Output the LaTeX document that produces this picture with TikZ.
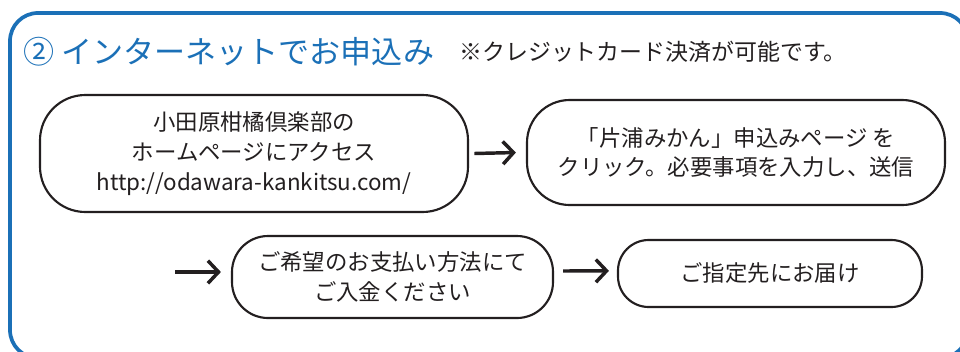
\documentclass[tikz,border=0pt]{standalone}
\usepackage{fontspec}
\setmainfont{Noto Sans CJK JP}
\usetikzlibrary{arrows.meta}
\definecolor{frameblue}{HTML}{1B70B7}
\definecolor{ink}{HTML}{231F20}
\tikzset{
  flowbox/.style={draw=ink, line width=1.6pt, text=ink, align=center,
    font=\fontsize{16.8}{22.3}\selectfont, inner sep=0pt},
  flowarrow/.style={draw=ink, line width=2.6pt,
    -{Straight Barb[length=8pt,width=17pt,line width=2.6pt]}},
}
\begin{document}
\begin{tikzpicture}[x=0.75pt,y=-0.75pt]
\useasboundingbox (0,0) rectangle (960,351);
\begin{scope}
\clip (0,0) rectangle (960,351);
\draw[frameblue, line width=2.8pt, rounded corners=21pt] (10,13) rectangle (968,358);
\end{scope}
\node[anchor=west, text=frameblue, font=\fontsize{23.3}{26}\selectfont, inner sep=0pt] (title) at (23,52) {② インターネットでお申込み};
\node[anchor=west, text=ink, font=\fontsize{17.2}{20}\selectfont, inner sep=0pt] (note) at (459,52) {※クレジットカード決済が可能です。};

\node[flowbox, minimum width=321pt, minimum height=87.75pt, rounded corners=34pt] (A) at (254,153.5)
  {小田原柑橘倶楽部の\\ホームページにアクセス\\http://odawara-kankitsu.com/};
\node[flowbox, minimum width=313.5pt, minimum height=78.75pt, rounded corners=32pt] (B) at (736,152.5)
  {「片浦みかん」申込みページ を\\クリック。必要事項を入力し、送信};
\node[flowbox, minimum width=240.75pt, minimum height=61.5pt, rounded corners=27pt] (C) at (392.5,277)
  {ご希望のお支払い方法にて\\ご入金ください};
\node[flowbox, minimum width=228pt, minimum height=50.25pt, rounded corners=23pt] (D) at (770,273.5)
  {ご指定先にお届け};

\coordinate (start2) at (175,272);
\draw[flowarrow] ([xshift=4pt]A.east) -- ([xshift=-7.5pt]B.west);
\draw[flowarrow, shorten >=7.5pt] (start2) -- (start2 -| C.west);
\draw[flowarrow] ([xshift=6.75pt,yshift=4.5pt]C.east) -- ([xshift=-6pt,yshift=2pt]D.west);
\end{tikzpicture}
\end{document}
